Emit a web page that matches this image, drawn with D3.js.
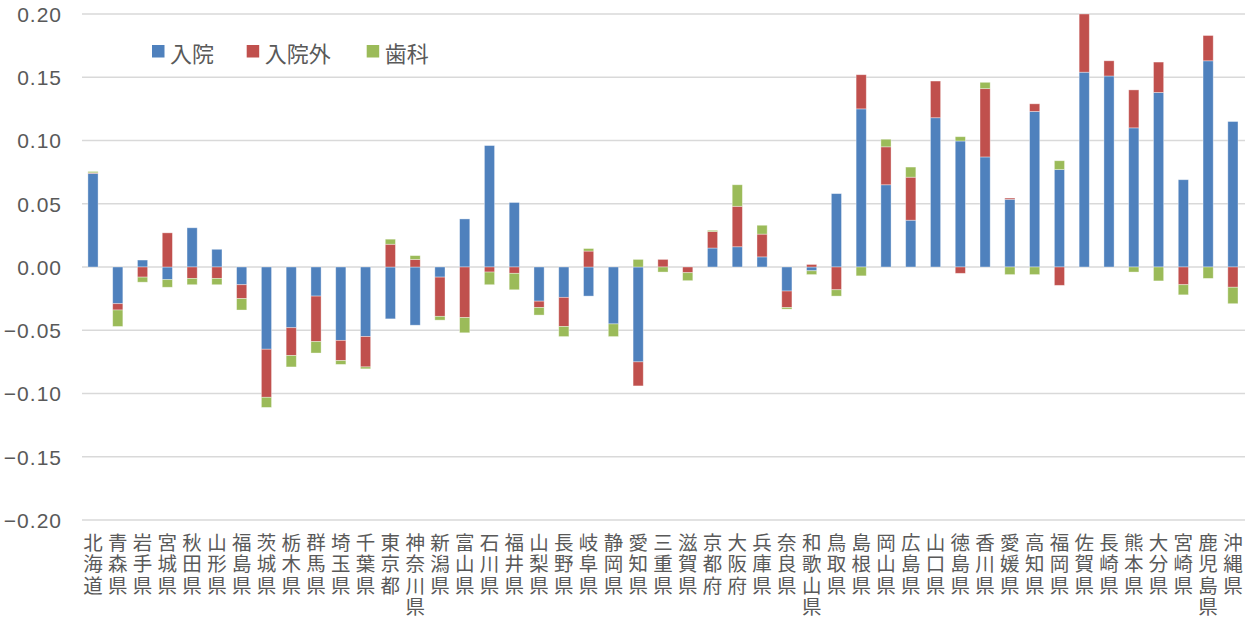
<!DOCTYPE html>
<html><head><meta charset="utf-8">
<script src="https://cdn.jsdelivr.net/npm/d3@7"></script>
<style>body{margin:0;background:#fff}svg{display:block}</style>
</head><body>
<svg id="c" width="1253" height="619"></svg>
<script>
const categories = ["北海道","青森県","岩手県","宮城県","秋田県","山形県","福島県","茨城県","栃木県","群馬県","埼玉県","千葉県","東京都","神奈川県","新潟県","富山県","石川県","福井県","山梨県","長野県","岐阜県","静岡県","愛知県","三重県","滋賀県","京都府","大阪府","兵庫県","奈良県","和歌山県","鳥取県","島根県","岡山県","広島県","山口県","徳島県","香川県","愛媛県","高知県","福岡県","佐賀県","長崎県","熊本県","大分県","宮崎県","鹿児島県","沖縄県"];
const seriesNames = ["入院","入院外","歯科"];
const inpatient = [0.074,-0.029,0.0055,-0.010,0.031,0.014,-0.014,-0.065,-0.048,-0.023,-0.058,-0.055,-0.041,-0.046,-0.008,0.038,0.096,0.051,-0.027,-0.024,-0.023,-0.045,-0.075,0,0,0.015,0.016,0.008,-0.019,-0.003,0.058,0.125,0.065,0.037,0.118,0.0996,0.087,0.0535,0.123,0.077,0.154,0.151,0.110,0.138,0.069,0.163,0.115];
const outpatient = [0.0005,-0.005,-0.008,0.027,-0.009,-0.009,-0.011,-0.038,-0.022,-0.036,-0.016,-0.024,0.018,0.006,-0.031,-0.040,-0.004,-0.005,-0.005,-0.023,0.0126,0,-0.019,0.006,-0.0045,0.013,0.032,0.018,-0.013,0.002,-0.018,0.027,0.030,0.034,0.029,-0.005,0.054,0.001,0.006,-0.0145,0.046,0.012,0.030,0.024,-0.014,0.020,-0.016];
const dental = [0.001,-0.013,-0.004,-0.006,-0.005,-0.005,-0.009,-0.008,-0.009,-0.009,-0.003,-0.0015,0.004,0.003,-0.003,-0.012,-0.010,-0.013,-0.006,-0.008,0.002,-0.010,0.006,-0.004,-0.0063,0.001,0.017,0.007,-0.0013,-0.003,-0.005,-0.007,0.006,0.008,0,0.0034,0.005,-0.006,-0.006,0.007,0,0,-0.004,-0.011,-0.008,-0.009,-0.013];
const yTicks = [-0.20,-0.15,-0.10,-0.05,0.00,0.05,0.10,0.15,0.20];
const colors = ["#4F81BD","#C0504D","#9BBB59"];

const rows = categories.map((c,i)=>({cat:c, "入院":inpatient[i], "入院外":outpatient[i], "歯科":dental[i]}));
const stacked = d3.stack().keys(seriesNames).offset(d3.stackOffsetDiverging)(rows);

const svg = d3.select("#c");
const x = d3.scaleBand().domain(categories).range([80.6,1245.3]).padding(0);
const y = d3.scaleLinear().domain([-0.2,0.2]).range([520,14]);
const bw = x.bandwidth()*0.41;

// gridlines
svg.append("g").selectAll("line").data(yTicks).join("line")
  .attr("x1",82).attr("x2",1245)
  .attr("y1",d=>y(d)).attr("y2",d=>y(d))
  .attr("stroke","#d9d9d9").attr("stroke-width",1.5);

// y labels
const yAxis = d3.axisLeft(y).tickValues(yTicks).tickFormat(d3.format(".2f")).tickSize(0).tickPadding(0);
const ya = svg.append("g").attr("transform","translate(62,0)").call(yAxis);
ya.select(".domain").remove();
ya.selectAll("text").attr("font-family","'Liberation Sans',Arial,sans-serif").attr("font-size",21)
  .attr("fill","#595959").attr("letter-spacing","1px").attr("dy","0.35em");

// bars
svg.append("g").selectAll("g").data(stacked).join("g")
  .attr("fill",(d,i)=>colors[i])
  .selectAll("rect").data(d=>d).join("rect")
  .attr("x",d=>x(d.data.cat)+x.bandwidth()/2-bw/2)
  .attr("width",bw)
  .attr("y",d=>y(Math.max(d[0],d[1])))
  .attr("height",d=>Math.abs(y(d[0])-y(d[1])))
  .attr("stroke","rgba(255,255,255,0.45)").attr("stroke-width",0.8);

// category labels (vertical, one text per category)
const lab = svg.append("g").attr("font-family","'Noto Sans CJK JP',sans-serif").attr("font-size",19.5).attr("fill","#595959");
categories.forEach(c=>{
  const cx = x(c)+x.bandwidth()/2;
  const t = lab.append("text").attr("text-anchor","middle");
  Array.from(c).forEach((ch,j)=>{
    t.append("tspan").attr("x",cx).attr("y",550+j*21.3).text(ch);
  });
});

// legend
const legX = [152,246.7,366.7];
const lg = svg.append("g");
seriesNames.forEach((s,i)=>{
  lg.append("rect").attr("x",legX[i]).attr("y",45).attr("width",12.5).attr("height",12.5).attr("fill",colors[i]);
  lg.append("text").attr("x",legX[i]+18).attr("y",51.5).attr("dominant-baseline","central")
    .attr("font-family","'Noto Sans CJK JP',sans-serif").attr("font-size",22).attr("fill","#595959").text(s);
});
</script>
</body></html>
